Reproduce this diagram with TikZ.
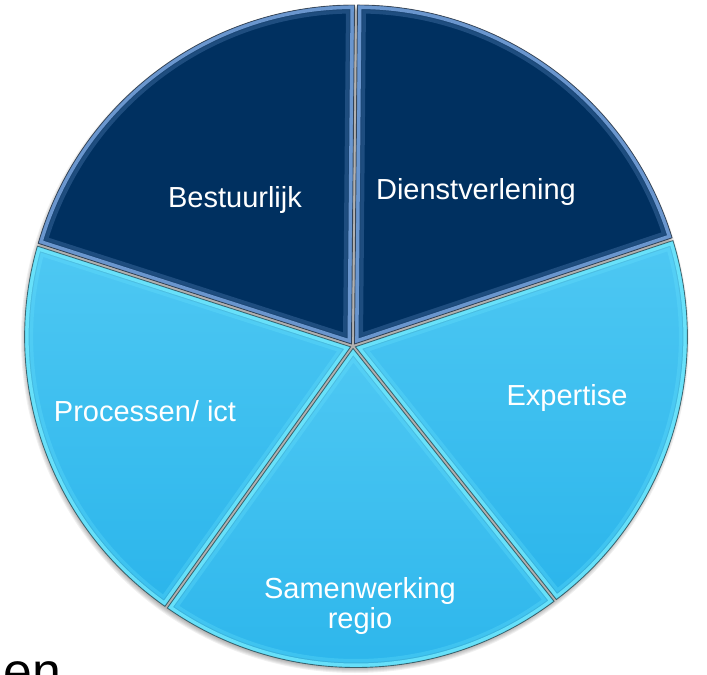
\documentclass[tikz,border=0pt]{standalone}
\usepackage{fontspec}
\setmainfont{Liberation Sans}
\usepackage{tikz}
\usetikzlibrary{calc}

\definecolor{donkerblauw}{RGB}{0,48,96}
\definecolor{donkerrand}{RGB}{120,165,222}
\definecolor{lichtboven}{RGB}{78,200,243}
\definecolor{lichtonder}{RGB}{43,181,235}
\definecolor{lichtrand}{RGB}{110,232,255}

% contorno de una rebanada (usa \a y \b del bucle)
\newcommand{\rebanada}{(353,328) -- ($(356,338)+(\a:329)$) arc[start angle=\a, end angle=\b, radius=329] -- cycle}

\begin{document}
\begin{tikzpicture}[x=0.02cm, y=0.02cm,
        oscuro/.style={fill=donkerblauw},
        claro/.style={top color=lichtboven, bottom color=lichtonder},
        etiqueta/.style={text=white, inner sep=0pt, font=\fontsize{16.5}{17}\selectfont},
    ]
        \useasboundingbox (0,0) rectangle (707,674);

        % Sombra
        \foreach \s in {1,...,6}
            \fill[black, opacity=0.06] (355,335) circle[radius=328+\s];

        % Rebanadas
        \foreach \a/\b/\estilo/\borde in {90/164/oscuro/donkerrand, 17/90/oscuro/donkerrand,
                -53/17/claro/lichtrand, -125/-53/claro/lichtrand, 164/235/claro/lichtrand}
        {
            \pgfmathsetmacro{\m}{(\a+\b)/2}
            \begin{scope}[shift={(\m:2.5)}]
                \path[\estilo] \rebanada;
                \begin{scope}
                    \clip \rebanada;
                    \draw[\borde, line width=0.34cm, opacity=0.25] \rebanada;
                    \draw[black, line width=0.2cm, opacity=0.08] \rebanada;
                    \draw[\borde, line width=0.16cm, opacity=0.85] \rebanada;
                \end{scope}
                \draw[black, opacity=0.5, line width=0.5pt] \rebanada;
            \end{scope}
        }

        % Textos
        \node[etiqueta, anchor=base] (bestuurlijk) at (235,466) {Bestuurlijk};
        \node[etiqueta, anchor=base] (dienstverlening) at (476,475) {Dienstverlening};
        \node[etiqueta, anchor=base] (processen) at (145,253) {Processen/ ict};
        \node[etiqueta, anchor=base] (expertise) at (567,269) {Expertise};
        \node[etiqueta, align=center] (samenwerking) at (360,68) {Samenwerking\\regio};
        \node[anchor=base west, inner sep=0pt, font=\fontsize{29.5}{30}\selectfont] (en) at (3,-15) {en};
\end{tikzpicture}
\end{document}
